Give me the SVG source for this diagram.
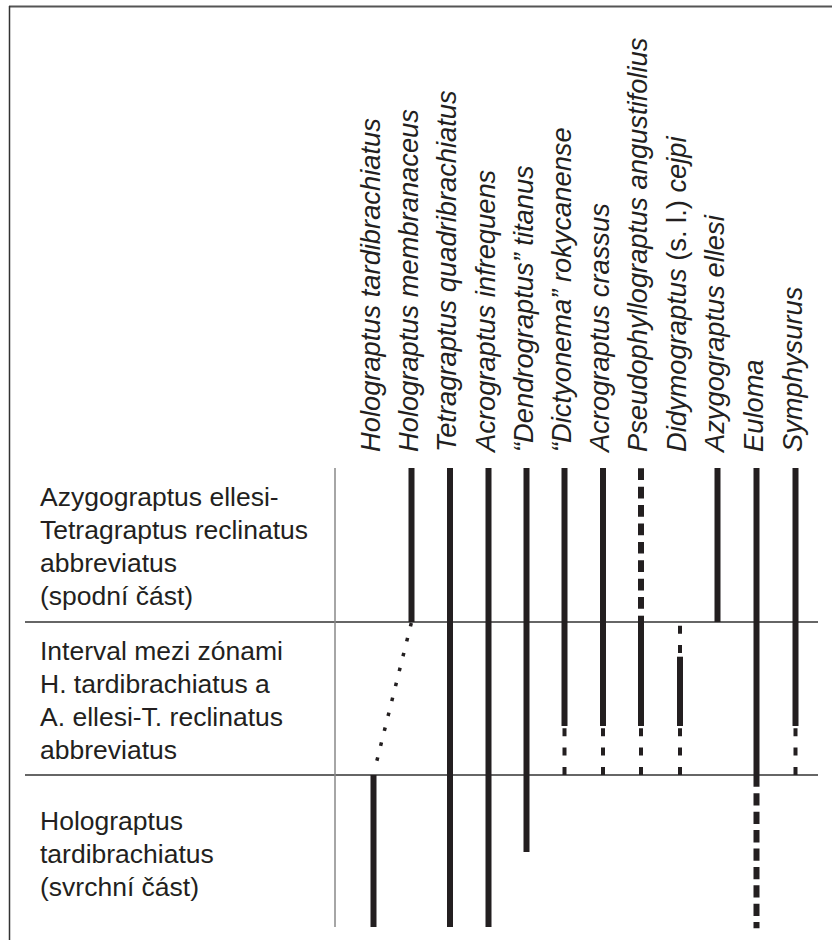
<svg xmlns="http://www.w3.org/2000/svg" width="832" height="940" viewBox="0 0 832 940">
<style>
  text { font-family: "Liberation Sans", Arial, sans-serif; fill: #231f20; }
  .sp { font-size: 27.3px; font-style: italic; }
  .up { font-style: normal; }
  .zone { font-size: 26.5px; }
  .bar { stroke: #231f20; stroke-width: 6; fill: none; }
  .thin { stroke: #231f20; stroke-width: 4; fill: none; stroke-dasharray: 8 11.3; }
  .heavy { stroke: #231f20; stroke-width: 6; fill: none; stroke-dasharray: 11.7 6.7; }
  .rule { stroke: #333; stroke-width: 1.5; fill: none; }
</style>
<rect width="832" height="940" fill="#fff"/>
<g id="frame">
  <line x1="9" y1="6.5" x2="832" y2="6.5" stroke="#555" stroke-width="1.8"/>
  <line x1="9.5" y1="6" x2="9.5" y2="940" stroke="#333" stroke-width="1.5"/>
  <line x1="25" y1="622" x2="818" y2="622" class="rule"/>
  <line x1="25" y1="775" x2="818" y2="775" class="rule"/>
  <line x1="335" y1="468" x2="335" y2="927" stroke="#888" stroke-width="1.5"/>
</g>
<g id="zone-upper">
  <text class="zone" x="40" y="506">Azygograptus ellesi-</text>
  <text class="zone" x="40" y="539">Tetragraptus reclinatus</text>
  <text class="zone" x="40" y="572">abbreviatus</text>
  <text class="zone" x="40" y="605">(spodní část)</text>
</g>
<g id="zone-interval">
  <text class="zone" x="40" y="660">Interval mezi zónami</text>
  <text class="zone" x="40" y="693">H. tardibrachiatus a</text>
  <text class="zone" x="40" y="726">A. ellesi-T. reclinatus</text>
  <text class="zone" x="40" y="759">abbreviatus</text>
</g>
<g id="zone-lower">
  <text class="zone" x="40" y="830">Holograptus</text>
  <text class="zone" x="40" y="863">tardibrachiatus</text>
  <text class="zone" x="40" y="896">(svrchní část)</text>
</g>
<g id="taxon-holograptus-tardibrachiatus">
  <text class="sp" transform="translate(379.5,452) rotate(-90)">Holograptus tardibrachiatus</text>
  <line class="bar" x1="373.5" y1="775" x2="373.5" y2="927"/>
</g>
<g id="taxon-holograptus-membranaceus">
  <text class="sp" transform="translate(417.5,452) rotate(-90)">Holograptus membranaceus</text>
  <line class="bar" x1="411.5" y1="468" x2="411.5" y2="622"/>
</g>
<g id="taxon-tetragraptus-quadribrachiatus">
  <text class="sp" transform="translate(456,452) rotate(-90)">Tetragraptus quadribrachiatus</text>
  <line class="bar" x1="450" y1="468" x2="450" y2="927"/>
</g>
<g id="taxon-acrograptus-infrequens">
  <text class="sp" transform="translate(494.5,452) rotate(-90)">Acrograptus infrequens</text>
  <line class="bar" x1="488.5" y1="468" x2="488.5" y2="927"/>
</g>
<g id="taxon-dendrograptus-titanus">
  <text class="sp" transform="translate(532.5,452) rotate(-90)">“Dendrograptus” titanus</text>
  <line class="bar" x1="526.5" y1="468" x2="526.5" y2="852"/>
</g>
<g id="taxon-dictyonema-rokycanense">
  <text class="sp" transform="translate(570.5,452) rotate(-90)">“Dictyonema” rokycanense</text>
  <line class="bar" x1="564.5" y1="468" x2="564.5" y2="726"/>
  <line class="thin" x1="564.5" y1="728.3" x2="564.5" y2="775"/>
</g>
<g id="taxon-acrograptus-crassus">
  <text class="sp" transform="translate(609,452) rotate(-90)">Acrograptus crassus</text>
  <line class="bar" x1="603" y1="468" x2="603" y2="726"/>
  <line class="thin" x1="603" y1="728.3" x2="603" y2="775"/>
</g>
<g id="taxon-pseudophyllograptus-angustifolius">
  <text class="sp" transform="translate(647,452) rotate(-90)">Pseudophyllograptus angustifolius</text>
  <line class="heavy" x1="641" y1="468.3" x2="641" y2="612"/>
  <line class="bar" x1="641" y1="615.7" x2="641" y2="726"/>
  <line class="thin" x1="641" y1="728.3" x2="641" y2="775"/>
</g>
<g id="taxon-didymograptus-cejpi">
  <text class="sp" transform="translate(686,452) rotate(-90)">Didymograptus <tspan class="up">(s. l.)</tspan> cejpi</text>
  <line class="thin" x1="680" y1="625.7" x2="680" y2="654"/>
  <line class="bar" x1="680" y1="656.7" x2="680" y2="726"/>
  <line class="thin" x1="680" y1="728.3" x2="680" y2="775"/>
</g>
<g id="taxon-azygograptus-ellesi">
  <text class="sp" transform="translate(723.5,452) rotate(-90)">Azygograptus ellesi</text>
  <line class="bar" x1="717.5" y1="468" x2="717.5" y2="622"/>
</g>
<g id="taxon-euloma">
  <text class="sp" transform="translate(762.5,452) rotate(-90)">Euloma</text>
  <line class="bar" x1="756.5" y1="468" x2="756.5" y2="786.7"/>
  <line x1="756.5" y1="793.3" x2="756.5" y2="928.3" stroke="#231f20" stroke-width="6" stroke-dasharray="12.3 6.1"/>
</g>
<g id="taxon-symphysurus">
  <text class="sp" transform="translate(801.5,452) rotate(-90)">Symphysurus</text>
  <line class="bar" x1="795.5" y1="468" x2="795.5" y2="726"/>
  <line class="thin" x1="795.5" y1="728.3" x2="795.5" y2="775"/>
</g>
<g id="connectors">
  <line x1="411.3" y1="623" x2="374" y2="772.3" stroke="#231f20" stroke-width="3.5" stroke-dasharray="3.5 11.89"/>
</g>
</svg>
